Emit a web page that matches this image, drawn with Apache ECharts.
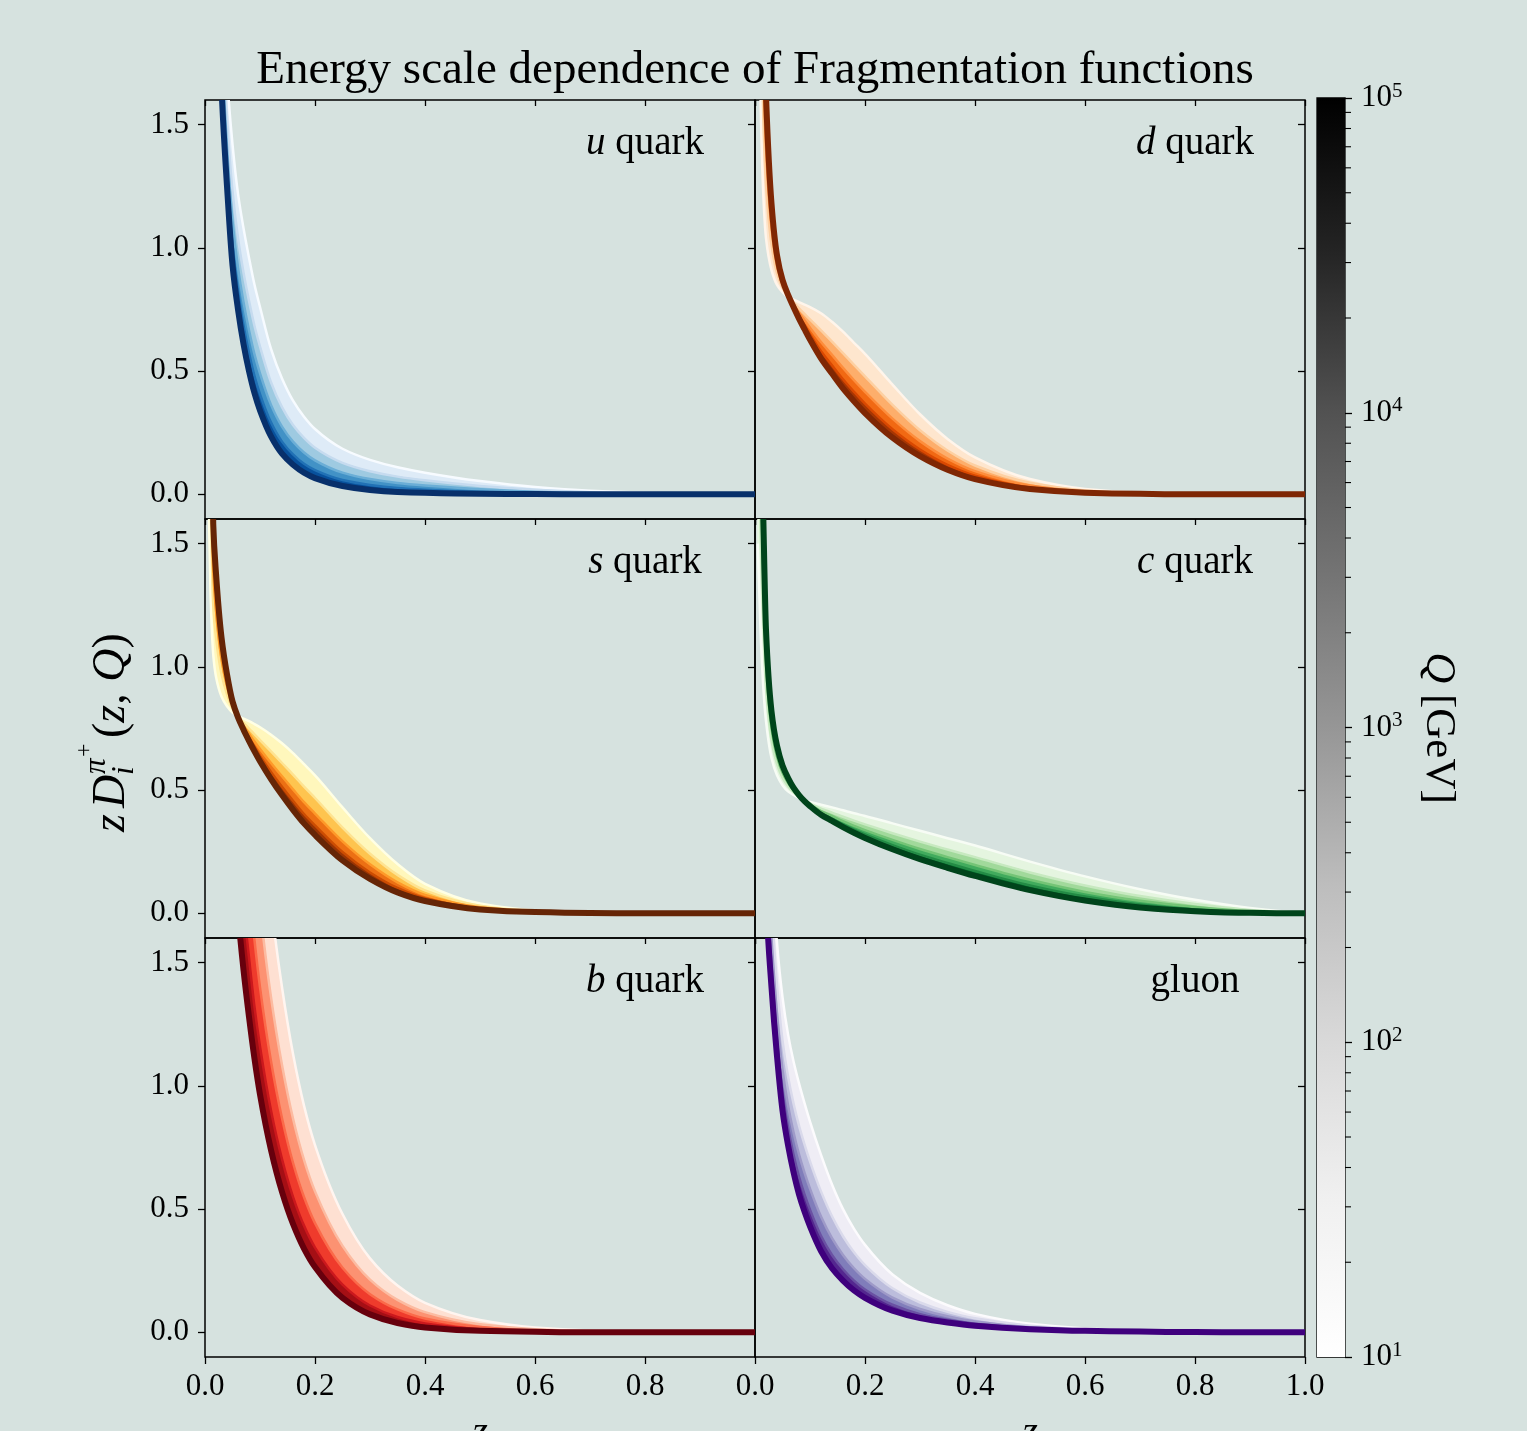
<!DOCTYPE html>
<html><head><meta charset="utf-8">
<script src="https://cdn.jsdelivr.net/npm/echarts@6/dist/echarts.min.js"></script>
<style>html,body{margin:0;padding:0;background:#d6e2df;}#c{width:1527px;height:1431px;}</style>
</head><body><div id="c"></div>
<script>
// ---------------- data ----------------
const Z = [0.005,0.01,0.015,0.02,0.03,0.04,0.05,0.06,0.07,0.08,0.09,0.10,0.12,0.14,0.16,0.18,0.20,0.25,0.30,0.35,0.40,0.50,0.60,0.70,0.80,0.90,1.00];
const Q_LEVELS = [10,100,1000,10000,100000];
const Y_TICKS = [0,0.5,1.0,1.5];
const CB_MINOR = [20,30,40,50,60,70,80,90,200,300,400,500,600,700,800,900,2000,3000,4000,5000,6000,7000,8000,9000,20000,30000,40000,50000,60000,70000,80000,90000];

// u quark
const u_Q10  = [6.5,5.0,3.9,3.1,2.2,1.7,1.42,1.22,1.08,0.96,0.85,0.76,0.59,0.47,0.38,0.315,0.265,0.185,0.14,0.11,0.088,0.054,0.03,0.015,0.007,0.002,0];
const u_Q100 = [6.31,4.70,3.63,2.83,1.99,1.53,1.23,1.04,0.90,0.785,0.683,0.60,0.455,0.354,0.281,0.229,0.189,0.128,0.094,0.072,0.057,0.034,0.019,0.009,0.004,0.001,0];
const u_Q1e3 = [6.18,4.49,3.45,2.65,1.85,1.41,1.11,0.92,0.78,0.666,0.568,0.491,0.363,0.275,0.214,0.170,0.138,0.088,0.062,0.046,0.036,0.021,0.011,0.005,0.003,0.001,0];
const u_Q1e4 = [6.08,4.33,3.31,2.51,1.74,1.32,1.01,0.825,0.685,0.574,0.48,0.407,0.292,0.214,0.162,0.124,0.098,0.058,0.038,0.026,0.019,0.010,0.006,0.002,0.001,0,0];
const u_Q1e5 = [6.0,4.2,3.2,2.4,1.65,1.25,0.93,0.75,0.61,0.50,0.41,0.34,0.235,0.165,0.12,0.088,0.066,0.034,0.018,0.010,0.006,0.002,0.001,0,0,0,0];
// d quark
const d_Q10  = [2.6,1.62,1.22,1.04,0.91,0.85,0.82,0.80,0.79,0.78,0.77,0.76,0.735,0.70,0.66,0.615,0.57,0.445,0.325,0.225,0.15,0.062,0.022,0.007,0.002,0,0];
const d_Q100 = [3.13,2.07,1.54,1.26,1.013,0.896,0.839,0.804,0.779,0.755,0.732,0.71,0.665,0.62,0.573,0.525,0.479,0.363,0.26,0.178,0.117,0.047,0.016,0.005,0.001,0,0];
const d_Q1e3 = [3.50,2.38,1.75,1.41,1.083,0.927,0.852,0.806,0.771,0.737,0.706,0.676,0.618,0.566,0.513,0.463,0.416,0.307,0.216,0.145,0.094,0.036,0.012,0.004,0.001,0,0];
const d_Q1e4 = [3.78,2.61,1.92,1.53,1.137,0.951,0.862,0.808,0.765,0.724,0.686,0.649,0.581,0.524,0.467,0.416,0.368,0.264,0.182,0.12,0.076,0.028,0.009,0.003,0,0,0];
const d_Q1e5 = [4.0,2.8,2.05,1.62,1.18,0.97,0.87,0.81,0.76,0.713,0.67,0.628,0.552,0.49,0.43,0.378,0.33,0.23,0.155,0.10,0.062,0.022,0.007,0.002,0,0,0];
// s quark
const s_Q10  = [1.9,1.3,1.05,0.96,0.88,0.84,0.815,0.80,0.79,0.78,0.768,0.755,0.725,0.69,0.65,0.605,0.56,0.43,0.305,0.2,0.12,0.04,0.012,0.003,0.001,0,0];
const s_Q100 = [2.55,1.72,1.25,1.12,0.971,0.889,0.832,0.798,0.773,0.75,0.726,0.703,0.657,0.61,0.563,0.514,0.468,0.348,0.242,0.156,0.093,0.031,0.009,0.002,0.001,0,0];
const s_Q1e3 = [2.99,2.00,1.39,1.23,1.034,0.923,0.844,0.797,0.761,0.729,0.697,0.667,0.61,0.556,0.503,0.451,0.405,0.292,0.199,0.126,0.075,0.025,0.008,0.002,0,0,0];
const s_Q1e4 = [3.33,2.22,1.50,1.31,1.08,0.949,0.853,0.796,0.752,0.713,0.675,0.639,0.574,0.514,0.457,0.403,0.357,0.249,0.166,0.103,0.061,0.020,0.006,0.001,0,0,0];
const s_Q1e5 = [3.6,2.4,1.58,1.38,1.12,0.97,0.86,0.795,0.745,0.70,0.657,0.617,0.545,0.48,0.42,0.365,0.318,0.215,0.14,0.085,0.05,0.016,0.005,0.001,0,0,0];
// c quark
const c_Q10  = [1.5,1.15,0.92,0.78,0.63,0.56,0.52,0.495,0.48,0.468,0.459,0.452,0.441,0.43,0.418,0.406,0.395,0.365,0.335,0.305,0.275,0.21,0.15,0.098,0.055,0.022,0];
const c_Q100 = [2.26,1.55,1.19,0.921,0.702,0.606,0.55,0.516,0.491,0.473,0.457,0.446,0.425,0.409,0.392,0.376,0.361,0.325,0.291,0.259,0.228,0.166,0.113,0.07,0.038,0.014,0];
const c_Q1e3 = [2.78,1.82,1.37,1.017,0.752,0.637,0.571,0.53,0.499,0.476,0.456,0.441,0.415,0.395,0.374,0.355,0.338,0.298,0.261,0.228,0.196,0.136,0.087,0.051,0.026,0.009,0];
const c_Q1e4 = [3.18,2.03,1.51,1.09,0.79,0.661,0.587,0.541,0.505,0.478,0.456,0.438,0.407,0.384,0.361,0.34,0.32,0.277,0.238,0.204,0.172,0.113,0.068,0.036,0.016,0.005,0];
const c_Q1e5 = [3.5,2.2,1.62,1.15,0.82,0.68,0.60,0.55,0.51,0.48,0.455,0.435,0.40,0.375,0.35,0.327,0.306,0.26,0.22,0.185,0.152,0.094,0.052,0.024,0.009,0.002,0];
// b quark
const b_Q10  = [6.5,6.2,5.9,5.6,5.0,4.45,3.95,3.5,3.1,2.75,2.45,2.18,1.74,1.4,1.13,0.92,0.76,0.48,0.30,0.19,0.12,0.05,0.02,0.008,0.003,0.001,0];
const b_Q100 = [5.74,5.40,5.10,4.80,4.20,3.67,3.21,2.82,2.48,2.19,1.94,1.72,1.36,1.085,0.868,0.70,0.572,0.351,0.214,0.132,0.082,0.033,0.013,0.005,0.002,0.001,0];
const b_Q1e3 = [5.22,4.86,4.56,4.26,3.66,3.14,2.70,2.35,2.06,1.81,1.59,1.40,1.10,0.869,0.688,0.549,0.443,0.262,0.155,0.093,0.056,0.022,0.008,0.003,0.001,0,0];
const b_Q1e4 = [4.82,4.44,4.14,3.84,3.24,2.73,2.31,1.99,1.73,1.52,1.32,1.16,0.90,0.703,0.55,0.433,0.344,0.194,0.109,0.062,0.036,0.013,0.005,0.001,0,0,0];
const b_Q1e5 = [4.5,4.1,3.8,3.5,2.9,2.4,2.0,1.7,1.47,1.28,1.11,0.965,0.74,0.57,0.44,0.34,0.265,0.14,0.073,0.038,0.02,0.006,0.002,0,0,0,0];
// gluon
const g_Q10  = [5.5,4.2,3.2,2.5,1.95,1.58,1.36,1.21,1.10,1.01,0.93,0.855,0.72,0.60,0.50,0.42,0.355,0.235,0.16,0.11,0.075,0.035,0.016,0.007,0.003,0.001,0];
const g_Q100 = [5.12,3.82,2.88,2.23,1.74,1.41,1.185,1.039,0.929,0.839,0.763,0.694,0.572,0.471,0.39,0.325,0.273,0.179,0.121,0.083,0.057,0.027,0.012,0.005,0.002,0.001,0];
const g_Q1e3 = [4.86,3.56,2.66,2.04,1.60,1.29,1.066,0.922,0.812,0.722,0.648,0.583,0.47,0.382,0.314,0.26,0.217,0.141,0.095,0.065,0.044,0.021,0.01,0.004,0.002,0,0];
const g_Q1e4 = [4.66,3.36,2.49,1.90,1.49,1.19,0.974,0.832,0.722,0.632,0.56,0.498,0.392,0.314,0.256,0.21,0.174,0.112,0.074,0.051,0.035,0.017,0.008,0.004,0.001,0,0];
const g_Q1e5 = [4.5,3.2,2.35,1.78,1.4,1.12,0.9,0.76,0.65,0.56,0.49,0.43,0.33,0.26,0.21,0.17,0.14,0.088,0.058,0.04,0.027,0.013,0.006,0.003,0.001,0,0];

// ---------------- colour maps (matplotlib) ----------------
const BLUES   = ['#f7fbff','#deebf7','#c6dbef','#9ecae1','#6baed6','#4292c6','#2171b5','#08519c','#08306b'];
const ORANGES = ['#fff5eb','#fee6ce','#fdd0a2','#fdae6b','#fd8d3c','#f16913','#d94801','#a63603','#7f2704'];
const YLORBR  = ['#ffffe5','#fff7bc','#fee391','#fec44f','#fe9929','#ec7014','#cc4c02','#993404','#662506'];
const GREENS  = ['#f7fcf5','#e5f5e0','#c7e9c0','#a1d99b','#74c476','#41ab5d','#238b45','#006d2c','#00441b'];
const REDS    = ['#fff5f0','#fee0d2','#fcbba1','#fc9272','#fb6a4a','#ef3b2c','#cb181d','#a50f15','#67000d'];
const PURPLES = ['#fcfbfd','#efedf5','#dadaeb','#bcbddc','#9e9ac8','#807dba','#6a51a3','#54278f','#3f007d'];
const GREYS   = ['#ffffff','#f0f0f0','#d9d9d9','#bdbdbd','#969696','#737373','#525252','#252525','#000000'];

function hex2rgb(h){return [parseInt(h.slice(1,3),16),parseInt(h.slice(3,5),16),parseInt(h.slice(5,7),16)];}
function cmap(stops,t){
  t=Math.max(0,Math.min(1,t));
  const n=stops.length-1, f=t*n, i=Math.min(Math.floor(f),n-1), r=f-i;
  const a=hex2rgb(stops[i]), b=hex2rgb(stops[i+1]);
  return 'rgb('+a.map((v,j)=>Math.round(v+(b[j]-v)*r)).join(',')+')';
}

const PANELS = [
  {curves:[u_Q10,u_Q100,u_Q1e3,u_Q1e4,u_Q1e5], cm:BLUES,   label:'{i|u} quark'},
  {curves:[d_Q10,d_Q100,d_Q1e3,d_Q1e4,d_Q1e5], cm:ORANGES, label:'{i|d} quark'},
  {curves:[s_Q10,s_Q100,s_Q1e3,s_Q1e4,s_Q1e5], cm:YLORBR,  label:'{i|s} quark'},
  {curves:[c_Q10,c_Q100,c_Q1e3,c_Q1e4,c_Q1e5], cm:GREENS,  label:'{i|c} quark'},
  {curves:[b_Q10,b_Q100,b_Q1e3,b_Q1e4,b_Q1e5], cm:REDS,    label:'{i|b} quark'},
  {curves:[g_Q10,g_Q100,g_Q1e3,g_Q1e4,g_Q1e5], cm:PURPLES, label:'gluon'}
];

// monotone cubic (PCHIP) segments in pixel space, for smooth drawing of the sampled curves
function segs(P){
  const n=P.length, h=[], d=[], m=new Array(n);
  for(let i=0;i<n-1;i++){h.push(P[i+1][0]-P[i][0]); d.push((P[i+1][1]-P[i][1])/h[i]);}
  m[0]=d[0]; m[n-1]=d[n-2];
  for(let i=1;i<n-1;i++){
    if(d[i-1]*d[i]<=0){m[i]=0;}
    else{const w1=2*h[i]+h[i-1], w2=h[i]+2*h[i-1]; m[i]=(w1+w2)/(w1/d[i-1]+w2/d[i]);}
  }
  const out=[];
  for(let i=0;i<n-1;i++){
    const t=h[i]/3;
    out.push({p0:P[i], c1:[P[i][0]+t,P[i][1]+m[i]*t], c2:[P[i+1][0]-t,P[i+1][1]-m[i+1]*t], p1:P[i+1]});
  }
  return out;
}
const f2=v=>v.toFixed(2);
function pt(p){return f2(p[0])+' '+f2(p[1]);}
function linePath(S){
  let s='M '+pt(S[0].p0);
  S.forEach(g=>{s+=' C '+pt(g.c1)+' '+pt(g.c2)+' '+pt(g.p1);});
  return s;
}
function bandPath(SA,SB){
  let s=linePath(SA);
  s+=' L '+pt(SB[SB.length-1].p1);
  for(let i=SB.length-1;i>=0;i--){const g=SB[i]; s+=' C '+pt(g.c2)+' '+pt(g.c1)+' '+pt(g.p0);}
  return s+' Z';
}

// ---------------- layout ----------------
const FONT = 'Liberation Serif';
const COLX = [205,755], ROWY = [100,519,938], PW = 550, PH = 419;
const BLACK = '#000';
const TICK = {color:BLACK, width:1.3};

const grids=[], xAxes=[], yAxes=[], series=[], graphics=[];
PANELS.forEach((p,pi)=>{
  const row=Math.floor(pi/2), col=pi%2;
  grids.push({left:COLX[col], top:ROWY[row], width:PW, height:PH, show:true, borderColor:BLACK, borderWidth:1.5,
    backgroundColor:'transparent', outerBoundsMode:'none', containLabel:false});
  xAxes.push({gridIndex:pi, type:'value', min:0, max:1, interval:0.2, position:'bottom',
    axisLine:{show:false, onZero:false}, splitLine:{show:false},
    axisTick:{show:row===2, inside:false, length:7, lineStyle:TICK},
    axisLabel:{show:row===2, margin:14, color:BLACK, fontFamily:FONT, fontSize:31, formatter:v=>v.toFixed(1),
      showMaxLabel:col===1, showMinLabel:true, hideOverlap:false},
    name: row===2 ? 'z' : '', nameLocation:'middle', nameGap:56,
    nameTextStyle:{fontFamily:FONT, fontStyle:'italic', fontSize:40, color:BLACK}});
  xAxes.push({gridIndex:pi, type:'value', min:0, max:1, interval:0.2, position:'top',
    axisLine:{show:false, onZero:false}, splitLine:{show:false},
    axisTick:{show:true, inside:true, length:6, lineStyle:TICK},
    axisLabel:{show:false}});
  yAxes.push({gridIndex:pi, type:'value', min:-0.1, max:1.6, position:'left',
    axisLine:{show:false, onZero:false}, splitLine:{show:false},
    axisTick:{show:col===0, inside:false, length:7, customValues:Y_TICKS, lineStyle:TICK},
    axisLabel:{show:col===0, customValues:Y_TICKS, margin:16, color:BLACK, fontFamily:FONT, fontSize:31,
      formatter:v=>v.toFixed(1), hideOverlap:false}});
  yAxes.push({gridIndex:pi, type:'value', min:-0.1, max:1.6, position:'right',
    axisLine:{show:false, onZero:false}, splitLine:{show:false},
    axisTick:{show:true, inside:true, length:7, customValues:Y_TICKS, lineStyle:TICK},
    axisLabel:{show:false}});

  const ax=2*pi;
  const bandColors=[0,1,2,3].map(k=>cmap(p.cm,(k+0.5)/4));
  const lineColors=[0,1,2,3,4].map(k=>cmap(p.cm,k/4));
  // items 0..3 : colour bands between consecutive Q curves; items 4..8 : the Q curves themselves
  series.push({type:'custom', xAxisIndex:ax, yAxisIndex:ax, z:2, silent:true, animation:false,
    data:[[0,0],[1,0],[2,0],[3,0],[4,0],[5,0],[6,0],[7,0],[8,0]],
    renderItem:(params,api)=>{
      const idx=api.value(0), cs=params.coordSys;
      const S=p.curves.map(c=>segs(Z.map((z,i)=>api.coord([z,c[i]]))));
      const clip={type:'rect', shape:{x:cs.x, y:cs.y, width:cs.width, height:cs.height}};
      if(idx<4){
        return {type:'path', z2:idx, shape:{pathData:bandPath(S[idx],S[idx+1])},
          style:{fill:bandColors[idx], stroke:bandColors[idx], lineWidth:1}, clipPath:clip};
      }
      const k=idx-4;
      return {type:'path', z2:idx, shape:{pathData:linePath(S[k])},
        style:{fill:'none', stroke:lineColors[k], lineWidth:k===4?6:2.5, lineJoin:'round'}, clipPath:clip};
    }});

  graphics.push({type:'text', x:COLX[col]+0.8*PW, y:ROWY[row]+0.1*PH+2, z:10,
    style:{text:p.label, align:'center', verticalAlign:'middle', textAlign:'center', textVerticalAlign:'middle',
      fontFamily:FONT, fontSize:39, fill:BLACK,
      rich:{i:{fontFamily:FONT, fontSize:39, fontStyle:'italic', fill:BLACK}}}});
});

// colour bar
const CB = 6;
grids.push({left:1317, top:98, width:28, height:1259, show:true, borderColor:BLACK, borderWidth:1.3,
  backgroundColor:'transparent', outerBoundsMode:'none', containLabel:false});
xAxes.push({gridIndex:CB, type:'value', min:0, max:1, show:false});
yAxes.push({gridIndex:CB, type:'log', logBase:10, min:10, max:100000, position:'right',
  axisLine:{show:false, onZero:false}, splitLine:{show:false},
  axisTick:{show:true, inside:false, length:7, lineStyle:TICK},
  axisLabel:{margin:16, color:BLACK, fontFamily:FONT, fontSize:31,
    formatter:v=>'10{s|'+Math.round(Math.log10(v))+'}',
    rich:{s:{fontFamily:FONT, fontSize:21, color:BLACK, verticalAlign:'top', padding:[0,0,14,0]}}}});
series.push({type:'custom', xAxisIndex:12, yAxisIndex:12, z:1, silent:true, animation:false,
  data:[[0,10]],
  renderItem:(params,api)=>{
    const p1=api.coord([0,100000]), p2=api.coord([1,10]);
    return {type:'rect', shape:{x:p1[0], y:p1[1], width:p2[0]-p1[0], height:p2[1]-p1[1]},
      style:{fill:{type:'linear', x:0, y:1, x2:0, y2:0,
        colorStops:GREYS.map((c,i)=>({offset:i/(GREYS.length-1), color:c}))}}};
  }});
series.push({type:'custom', xAxisIndex:12, yAxisIndex:12, z:3, silent:true, animation:false,
  data:CB_MINOR.map(v=>[1,v]),
  renderItem:(params,api)=>{
    const p=api.coord([1,api.value(1)]);
    return {type:'line', shape:{x1:p[0], y1:p[1], x2:p[0]+6, y2:p[1]}, style:{stroke:BLACK, lineWidth:1.1}};
  }});

// title & labels
graphics.push({type:'text', x:755, y:71, style:{text:'Energy scale dependence of Fragmentation functions',
  align:'center', verticalAlign:'middle', textAlign:'center', textVerticalAlign:'middle', fontFamily:FONT, fontSize:47, fill:BLACK}});
const IT = {fontFamily:FONT, fontStyle:'italic', fill:BLACK};
graphics.push({type:'group', x:112, y:728, rotation:Math.PI/2, children:[
  {type:'text', x:-104, y:0, style:Object.assign({text:'z', fontSize:46, align:'left', verticalAlign:'middle'},IT)},
  {type:'text', x:-80, y:0, style:Object.assign({text:'D', fontSize:46, align:'left', verticalAlign:'middle'},IT)},
  {type:'text', x:-46, y:-15, style:Object.assign({text:'π', fontSize:31, align:'left', verticalAlign:'middle'},IT)},
  {type:'text', x:-29, y:-27, style:{text:'+', fontFamily:FONT, fontSize:24, fill:BLACK, align:'left', verticalAlign:'middle'}},
  {type:'text', x:-47, y:13, style:Object.assign({text:'i', fontSize:31, align:'left', verticalAlign:'middle'},IT)},
  {type:'text', x:-10, y:0, style:{text:'({i|z}, {i|Q})', fontFamily:FONT, fontSize:46, fill:BLACK, align:'left', verticalAlign:'middle',
     rich:{i:{fontFamily:FONT, fontSize:46, fontStyle:'italic', fill:BLACK}}}}
]});
graphics.push({type:'text', x:1438, y:728, rotation:-Math.PI/2,
  style:{text:'{i|Q} [GeV]', fontFamily:FONT, fontSize:43, fill:BLACK, align:'center', verticalAlign:'middle',
    rich:{i:{fontFamily:FONT, fontSize:43, fontStyle:'italic', fill:BLACK}}}});

const chart = echarts.init(document.getElementById('c'), null, {renderer:'canvas'});
chart.setOption({
  backgroundColor:'#d6e2df', animation:false,
  textStyle:{fontFamily:FONT},
  grid:grids, xAxis:xAxes, yAxis:yAxes, series:series, graphic:graphics
});
</script></body></html>
